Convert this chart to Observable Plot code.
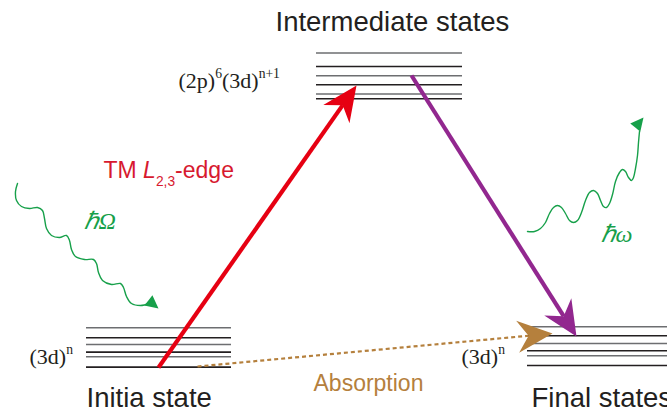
<!DOCTYPE html>
<html><head><meta charset="utf-8">
<script src="https://cdn.jsdelivr.net/npm/d3@7"></script>
<script src="https://cdn.jsdelivr.net/npm/@observablehq/plot@0.6"></script>
<style>html,body{margin:0;padding:0;background:#fff;overflow:hidden}</style>
</head><body><div id="chart"></div>
<script>
// ---- data ----
const stateNames = ["Initia state", "Intermediate states", "Final states"];
const configLabels = ["(3d)^{n}", "(2p)^{6}(3d)^{n+1}", "(3d)^{n}"];
const stateX1 = [86, 316, 527];
const stateX2 = [231, 462, 667];
const initialLevels = [327.3, 337.2, 344, 351.6, 356.3, 366.6];
const intermediateLevels = [52.5, 66, 75.3, 84.3, 93.5, 98.3];
const finalLevels = [326.3, 335.3, 343, 350.3, 355.3, 365];
const arrowNames = ["excitation", "emission", "absorption"];
const arrowFrom = [[158, 367], [411, 75], [197, 366]];
const arrowTo = [[356, 85], [576, 336], [552, 333]];
const edgeLabel = "TM *L*_{2,3}-edge";
const absorptionLabel = "Absorption";
const photonLabels = ["ℏΩ", "ℏω"];
const incomingWave = [[17,183],[15,191],[16,200],[21,206],[29,208],[37,207],[42,210],[44,218],[46,228],[51,235],[59,237],[66,235],[69,240],[71,249],[75,256],[84,259],[93,259],[96,263],[98,272],[102,280],[111,284],[120,283],[123,287],[126,296],[131,303],[140,305],[149,303]];
const outgoingWave = [[527,231],[534,231],[540,228],[545,222],[549,213],[553,207],[557,205],[561,207],[565,213],[569,220],[573,222],[577,220],[581,212],[585,200],[589,192],[593,190],[597,193],[600,200],[603,206],[606,207],[609,203],[612,194],[615,181],[619,172],[622,169],[625,171],[628,177],[631,180],[633,177],[635,168],[637,155],[638,142],[639,131]];
const waveTips = [[158, 308], [643, 117]];
const waveDirs = [[10, 8], [9, -11]];

// ---- helpers ----
const levelRows = [initialLevels, intermediateLevels, finalLevels]
  .flatMap((ys, s) => ys.map((y, k) => ({s, y, k})));
const headShape = (L, W, N) => ({draw(ctx) {
  ctx.moveTo(0, 0); ctx.lineTo(W, L); ctx.lineTo(0, N); ctx.lineTo(-W, L); ctx.closePath();
}});
const bigHead = headShape(35, 16, 24);
const smallHead = headShape(13, 6.5, 13);
const unit = i => {
  const dx = arrowTo[i][0] - arrowFrom[i][0], dy = arrowTo[i][1] - arrowFrom[i][1];
  const l = Math.hypot(dx, dy); return [dx / l, dy / l];
};
const angleOf = (dx, dy) => Math.atan2(dx, -dy) * 180 / Math.PI;
const arrowColors = ["#e60012", "#92278f", "#b5803d"];
const green = "#17a04a";
const sans = "'Liberation Sans', Arial, sans-serif";
const serif = "'Liberation Serif', 'Times New Roman', serif";

const arrowMarks = arrowNames.flatMap((name, i) => {
  const u = unit(i);
  const dashed = name === "absorption";
  return [
    Plot.link([i], {
      x1: d => arrowFrom[d][0], y1: d => arrowFrom[d][1],
      x2: d => arrowTo[d][0] - u[0] * 24, y2: d => arrowTo[d][1] - u[1] * 24,
      stroke: arrowColors[i], strokeWidth: dashed ? 2.2 : 4.2,
      strokeDasharray: dashed ? "4,3" : null
    }),
    Plot.dot([i], {
      x: d => arrowTo[d][0], y: d => arrowTo[d][1],
      rotate: d => angleOf(...u), symbol: bigHead, r: 5,
      fill: arrowColors[i], stroke: "none"
    })
  ];
});

const stateText = (i, x, y) => Plot.text([i], {x, y, text: d => stateNames[d], textAnchor: "start", lineAnchor: "bottom", fontSize: 27.5, fontFamily: sans, fill: "#231f20"});
const configText = (i, x, y) => Plot.text([i], {x, y, text: d => configLabels[d], textAnchor: "start", lineAnchor: "bottom", fontSize: 22, fontFamily: serif, fill: "#231f20", className: "rich"});

const chart = Plot.plot({
  width: 667, height: 413, margin: 0,
  x: {domain: [0, 667], range: [0, 667], axis: null},
  y: {domain: [0, 413], range: [0, 413], axis: null},
  style: {background: "#fff"},
  marks: [
    Plot.ruleY(levelRows.filter(d => d.k % 2 === 0), {y: "y", x1: d => stateX1[d.s], x2: d => stateX2[d.s], stroke: "#6d6e71", strokeWidth: 1.6}),
    Plot.ruleY(levelRows.filter(d => d.k % 2 === 1), {y: "y", x1: d => stateX1[d.s], x2: d => stateX2[d.s], stroke: "#231f20", strokeWidth: 1.6}),
    ...arrowMarks,
    Plot.line(incomingWave, {x: d => d[0], y: d => d[1], curve: "catmull-rom", stroke: green, strokeWidth: 1.4}),
    Plot.line(outgoingWave, {x: d => d[0], y: d => d[1], curve: "catmull-rom", stroke: green, strokeWidth: 1.4}),
    Plot.dot([0, 1], {x: d => waveTips[d][0], y: d => waveTips[d][1], rotate: d => angleOf(...waveDirs[d]), symbol: smallHead, r: 5, fill: green, stroke: "none"}),
    stateText(0, 86, 406),
    stateText(1, 275, 30),
    stateText(2, 531, 406),
    configText(0, 29, 363),
    configText(1, 178, 87),
    configText(2, 461, 363),
    Plot.text([edgeLabel], {x: 103, y: 177, text: d => d, textAnchor: "start", lineAnchor: "bottom", fontSize: 23, fontFamily: sans, fill: "#d7192f", className: "rich"}),
    Plot.text([absorptionLabel], {x: 313, y: 390, text: d => d, textAnchor: "start", lineAnchor: "bottom", fontSize: 23, fontFamily: sans, fill: "#b5803d"}),
    Plot.text([0], {x: 83, y: 228, text: d => photonLabels[d], textAnchor: "start", lineAnchor: "bottom", fontSize: 24, fontFamily: serif, fontStyle: "italic", fill: green}),
    Plot.text([1], {x: 600, y: 241, text: d => photonLabels[d], textAnchor: "start", lineAnchor: "bottom", fontSize: 24, fontFamily: serif, fontStyle: "italic", fill: green})
  ]
});

function richify(svg) {
  svg.querySelectorAll("g.rich text").forEach(t => {
    const s = t.textContent;
    const fs = parseFloat(t.closest("g").getAttribute("font-size")) || 20;
    t.textContent = "";
    let shift = 0;
    for (const m of s.matchAll(/\^\{([^}]*)\}|_\{([^}]*)\}|\*([^*]*)\*|([^^_*]+)/g)) {
      const ts = document.createElementNS("http://www.w3.org/2000/svg", "tspan");
      let target = 0;
      if (m[1] !== undefined) { ts.textContent = m[1]; ts.setAttribute("font-size", fs * 0.62); target = -0.42 * fs; }
      else if (m[2] !== undefined) { ts.textContent = m[2]; ts.setAttribute("font-size", fs * 0.6); target = 0.38 * fs; }
      else if (m[3] !== undefined) { ts.textContent = m[3]; ts.setAttribute("font-style", "italic"); }
      else ts.textContent = m[4];
      if (target !== shift) { ts.setAttribute("dy", target - shift); shift = target; }
      t.appendChild(ts);
    }
  });
}
richify(chart);
document.getElementById("chart").appendChild(chart);
</script></body></html>
